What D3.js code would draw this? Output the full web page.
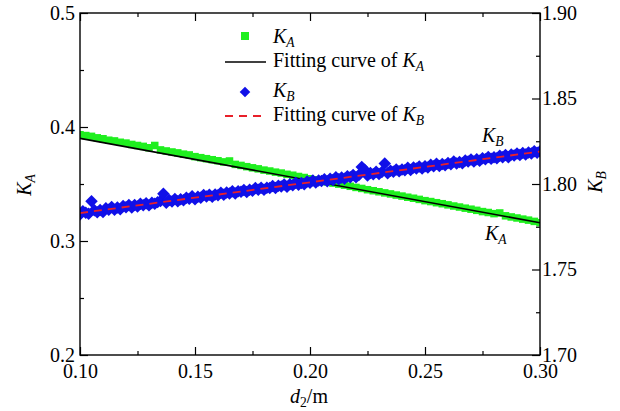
<!DOCTYPE html>
<html>
<head>
<meta charset="utf-8">
<title>K_A / K_B</title>
<style>
  body{margin:0;background:#fff;}
  svg{display:block;}
</style>
</head>
<body>
<script src="https://cdn.jsdelivr.net/npm/d3@7/dist/d3.min.js"></script>
<script>
// d2 positions of the K_A samples (m)
var d2A = [0.1000,0.1025,0.1050,0.1075,0.1100,0.1125,0.1150,0.1175,0.1200,0.1225,
  0.1250,0.1275,0.1300,0.1325,0.1350,0.1375,0.1400,0.1425,0.1450,0.1475,
  0.1500,0.1525,0.1550,0.1575,0.1600,0.1625,0.1650,0.1675,0.1700,0.1725,
  0.1750,0.1775,0.1800,0.1825,0.1850,0.1875,0.1900,0.1925,0.1950,0.1975,
  0.2000,0.2025,0.2050,0.2075,0.2100,0.2125,0.2150,0.2175,0.2200,0.2225,
  0.2250,0.2275,0.2300,0.2325,0.2350,0.2375,0.2400,0.2425,0.2450,0.2475,
  0.2500,0.2525,0.2550,0.2575,0.2600,0.2625,0.2650,0.2675,0.2700,0.2725,
  0.2750,0.2775,0.2800,0.2825,0.2850,0.2875,0.2900,0.2925,0.2950,0.2975,0.3000];

// K_A values (left axis)
var kA = [0.3932,0.3925,0.3918,0.3905,0.3897,0.3884,0.3878,0.3866,0.3859,0.3847,
  0.3838,0.3830,0.3818,0.3838,0.3799,0.3790,0.3781,0.3773,0.3762,0.3755,
  0.3740,0.3731,0.3722,0.3713,0.3704,0.3694,0.3702,0.3672,0.3663,0.3652,
  0.3642,0.3633,0.3622,0.3614,0.3604,0.3596,0.3585,0.3577,0.3566,0.3557,
  0.3546,0.3537,0.3528,0.3518,0.3508,0.3499,0.3490,0.3480,0.3470,0.3461,
  0.3450,0.3441,0.3432,0.3422,0.3413,0.3403,0.3394,0.3384,0.3375,0.3365,
  0.3354,0.3346,0.3336,0.3327,0.3317,0.3307,0.3298,0.3288,0.3279,0.3269,
  0.3258,0.3250,0.3240,0.3246,0.3221,0.3211,0.3202,0.3192,0.3183,0.3172,0.3161];

// d2 positions of the K_B samples (m)
var d2B = [0.10000,0.10125,0.10250,0.10375,0.10500,0.10625,0.10750,0.10875,0.11000,0.11125,
  0.11250,0.11375,0.11500,0.11625,0.11750,0.11875,0.12000,0.12125,0.12250,0.12375,
  0.12500,0.12625,0.12750,0.12875,0.13000,0.13125,0.13250,0.13375,0.13500,0.13625,
  0.13750,0.13875,0.14000,0.14125,0.14250,0.14375,0.14500,0.14625,0.14750,0.14875,
  0.15000,0.15125,0.15250,0.15375,0.15500,0.15625,0.15750,0.15875,0.16000,0.16125,
  0.16250,0.16375,0.16500,0.16625,0.16750,0.16875,0.17000,0.17125,0.17250,0.17375,
  0.17500,0.17625,0.17750,0.17875,0.18000,0.18125,0.18250,0.18375,0.18500,0.18625,
  0.18750,0.18875,0.19000,0.19125,0.19250,0.19375,0.19500,0.19625,0.19750,0.19875,
  0.20000,0.20125,0.20250,0.20375,0.20500,0.20625,0.20750,0.20875,0.21000,0.21125,
  0.21250,0.21375,0.21500,0.21625,0.21750,0.21875,0.22000,0.22125,0.22250,0.22375,
  0.22500,0.22625,0.22750,0.22875,0.23000,0.23125,0.23250,0.23375,0.23500,0.23625,
  0.23750,0.23875,0.24000,0.24125,0.24250,0.24375,0.24500,0.24625,0.24750,0.24875,
  0.25000,0.25125,0.25250,0.25375,0.25500,0.25625,0.25750,0.25875,0.26000,0.26125,
  0.26250,0.26375,0.26500,0.26625,0.26750,0.26875,0.27000,0.27125,0.27250,0.27375,
  0.27500,0.27625,0.27750,0.27875,0.28000,0.28125,0.28250,0.28375,0.28500,0.28625,
  0.28750,0.28875,0.29000,0.29125,0.29250,0.29375,0.29500,0.29625,0.29750,0.29875,0.30000];

// K_B values (right axis)
var kB = [1.7822,1.7841,1.7832,1.7826,1.7899,1.7846,1.7835,1.7848,1.7836,1.7858,
  1.7849,1.7865,1.7850,1.7862,1.7852,1.7871,1.7864,1.7877,1.7863,1.7877,
  1.7869,1.7885,1.7876,1.7888,1.7875,1.7891,1.7884,1.7894,1.7901,1.7943,
  1.7891,1.7906,1.7898,1.7913,1.7899,1.7911,1.7905,1.7920,1.7913,1.7928,
  1.7911,1.7926,1.7920,1.7935,1.7927,1.7937,1.7926,1.7939,1.7934,1.7949,
  1.7937,1.7950,1.7944,1.7957,1.7945,1.7958,1.7954,1.7965,1.7953,1.7966,
  1.7960,1.7976,1.7966,1.7978,1.7967,1.7978,1.7976,1.7989,1.7977,1.7990,
  1.7985,1.7997,1.7984,1.7998,1.7993,1.8008,1.7996,1.8006,1.7999,1.8014,
  1.8007,1.8020,1.8009,1.8021,1.8017,1.8028,1.8016,1.8031,1.8024,1.8039,
  1.8028,1.8038,1.8031,1.8045,1.8039,1.8052,1.8039,1.8052,1.8100,1.8083,
  1.8050,1.8064,1.8057,1.8071,1.8058,1.8070,1.8120,1.8063,1.8078,1.8072,
  1.8085,1.8074,1.8085,1.8080,1.8095,1.8082,1.8096,1.8091,1.8102,1.8090,
  1.8104,1.8097,1.8112,1.8104,1.8118,1.8105,1.8117,1.8109,1.8123,1.8116,
  1.8131,1.8120,1.8129,1.8121,1.8138,1.8131,1.8143,1.8132,1.8145,1.8136,
  1.8150,1.8145,1.8158,1.8147,1.8157,1.8150,1.8165,1.8157,1.8170,1.8157,
  1.8172,1.8167,1.8178,1.8169,1.8182,1.8173,1.8184,1.8179,1.8192,1.8183,1.8192];

// fitting lines
var fitX = [0.10, 0.30];
var fitA = [0.390, 0.316];
var fitB = [1.783, 1.819];

// ticks
var xTicks = [0.10, 0.15, 0.20, 0.25, 0.30];
var xMinor = [0.125, 0.175, 0.225, 0.275];
var aTicks = [0.2, 0.3, 0.4, 0.5];
var aMinor = [0.25, 0.35, 0.45];
var bTicks = [1.70, 1.75, 1.80, 1.85, 1.90];
var bMinor = [1.725, 1.775, 1.825, 1.875];

var W = 620, H = 411;
var L = 80, R = 540, T = 13, B = 355;
var FS = 20;
var SERIF = 'Liberation Serif';
var BLUE = '#1010e8', GREEN = '#1fef1f', RED = '#e8202a';

var svg = d3.select('body').append('svg').attr('width', W).attr('height', H);

var x = d3.scaleLinear().domain([0.1, 0.3]).range([L, R]);
var yA = d3.scaleLinear().domain([0.2, 0.5]).range([B, T]);
var yB = d3.scaleLinear().domain([1.70, 1.90]).range([B, T]);

svg.append('clipPath').attr('id', 'plot')
  .append('rect').attr('x', L).attr('y', T).attr('width', R - L).attr('height', B - T);

var g = svg.append('g').attr('clip-path', 'url(#plot)');

// K_A squares
var sq = 7.5;
g.selectAll('rect.ka').data(d2A).enter().append('rect')
  .attr('class', 'ka')
  .attr('x', function(d){ return x(d) - sq/2; })
  .attr('y', function(d, i){ return yA(kA[i]) - sq/2; })
  .attr('width', sq).attr('height', sq)
  .attr('fill', GREEN);

var line = d3.line();

g.append('path')
  .attr('d', line(fitX.map(function(d, i){ return [x(d), yA(fitA[i])]; })))
  .attr('stroke', '#000').attr('stroke-width', 1.6).attr('fill', 'none');

// K_B diamonds
var diamond = d3.symbol().type(d3.symbolSquare).size(78);
g.selectAll('path.kb').data(d2B).enter().append('path')
  .attr('class', 'kb')
  .attr('d', diamond)
  .attr('transform', function(d, i){ return 'translate(' + x(d) + ',' + yB(kB[i]) + ') rotate(45)'; })
  .attr('fill', BLUE);

g.append('path')
  .attr('d', line(fitX.map(function(d, i){ return [x(d), yB(fitB[i])]; })))
  .attr('stroke', RED).attr('stroke-width', 1.8).attr('stroke-dasharray', '8,6')
  .attr('fill', 'none');

// axes
function style(sel){
  sel.attr('font-family', null).attr('font-size', null);
  sel.select('.domain').remove();
  sel.selectAll('line').attr('stroke', '#000').attr('stroke-width', 1.2);
  sel.selectAll('text').attr('fill', '#000')
    .style('font-family', SERIF).style('font-size', FS + 'px');
}

svg.append('g').attr('transform', 'translate(0,' + B + ')')
  .call(d3.axisBottom(x).tickValues(xTicks).tickSizeInner(-8).tickSizeOuter(0).tickPadding(9)
    .tickFormat(d3.format('.2f'))).call(style);
svg.append('g').attr('transform', 'translate(0,' + B + ')')
  .call(d3.axisBottom(x).tickValues(xMinor).tickSizeInner(-4).tickSizeOuter(0).tickFormat('')).call(style);
svg.append('g').attr('transform', 'translate(0,' + T + ')')
  .call(d3.axisTop(x).tickValues(xTicks).tickSizeInner(-8).tickSizeOuter(0).tickFormat('')).call(style);
svg.append('g').attr('transform', 'translate(0,' + T + ')')
  .call(d3.axisTop(x).tickValues(xMinor).tickSizeInner(-4).tickSizeOuter(0).tickFormat('')).call(style);

svg.append('g').attr('transform', 'translate(' + L + ',0)')
  .call(d3.axisLeft(yA).tickValues(aTicks).tickSizeInner(-8).tickSizeOuter(0).tickPadding(5)
    .tickFormat(d3.format('.1f'))).call(style);
svg.append('g').attr('transform', 'translate(' + L + ',0)')
  .call(d3.axisLeft(yA).tickValues(aMinor).tickSizeInner(-4).tickSizeOuter(0).tickFormat('')).call(style);

svg.append('g').attr('transform', 'translate(' + R + ',0)')
  .call(d3.axisRight(yB).tickValues(bTicks).tickSizeInner(-8).tickSizeOuter(0).tickPadding(2)
    .tickFormat(d3.format('.2f'))).call(style);
svg.append('g').attr('transform', 'translate(' + R + ',0)')
  .call(d3.axisRight(yB).tickValues(bMinor).tickSizeInner(-4).tickSizeOuter(0).tickFormat('')).call(style);

svg.append('rect').attr('x', L).attr('y', T).attr('width', R - L).attr('height', B - T)
  .attr('fill', 'none').attr('stroke', '#000').attr('stroke-width', 1.4);

// plain serif text element
function txt(parent, x0, y0){
  return parent.append('text').attr('x', x0).attr('y', y0)
    .style('font-family', SERIF).style('font-size', FS + 'px').attr('fill', '#000');
}

// italic K with subscript
function kLabel(sel, sub){
  sel.append('tspan').style('font-style', 'italic').text('K');
  sel.append('tspan').style('font-style', 'italic').style('font-size', (FS * 0.68) + 'px')
    .attr('dy', 4).text(sub);
}

// legend
var lg = svg.append('g');
lg.append('rect').attr('x', 241).attr('y', 32).attr('width', 8).attr('height', 8).attr('fill', GREEN);
kLabel(txt(lg, 273, 43), 'A');

lg.append('line').attr('x1', 225).attr('x2', 266).attr('y1', 62).attr('y2', 62)
  .attr('stroke', '#000').attr('stroke-width', 1.6);
var t2 = txt(lg, 273, 67);
t2.append('tspan').text('Fitting curve of ');
kLabel(t2, 'A');

lg.append('path').attr('d', d3.symbol().type(d3.symbolSquare).size(56)())
  .attr('transform', 'translate(245,92) rotate(45)').attr('fill', BLUE);
kLabel(txt(lg, 273, 97), 'B');

lg.append('line').attr('x1', 225).attr('x2', 266).attr('y1', 116).attr('y2', 116)
  .attr('stroke', RED).attr('stroke-width', 1.8).attr('stroke-dasharray', '8,6');
var t4 = txt(lg, 273, 121);
t4.append('tspan').text('Fitting curve of ');
kLabel(t4, 'B');

// curve labels
kLabel(txt(svg, 482, 142), 'B');
kLabel(txt(svg, 485, 240), 'A');

// axis titles
var xt = txt(svg, 309, 403).attr('text-anchor', 'middle');
xt.append('tspan').style('font-style', 'italic').text('d');
xt.append('tspan').style('font-size', (FS * 0.68) + 'px').attr('dy', 4).text('2');
xt.append('tspan').attr('dy', -4).text('/m');

kLabel(txt(svg, 0, 0).attr('text-anchor', 'middle')
  .attr('transform', 'translate(31,185) rotate(-90)'), 'A');
kLabel(txt(svg, 0, 0).attr('text-anchor', 'middle')
  .attr('transform', 'translate(602,182) rotate(-90)'), 'B');
</script>
</body>
</html>
